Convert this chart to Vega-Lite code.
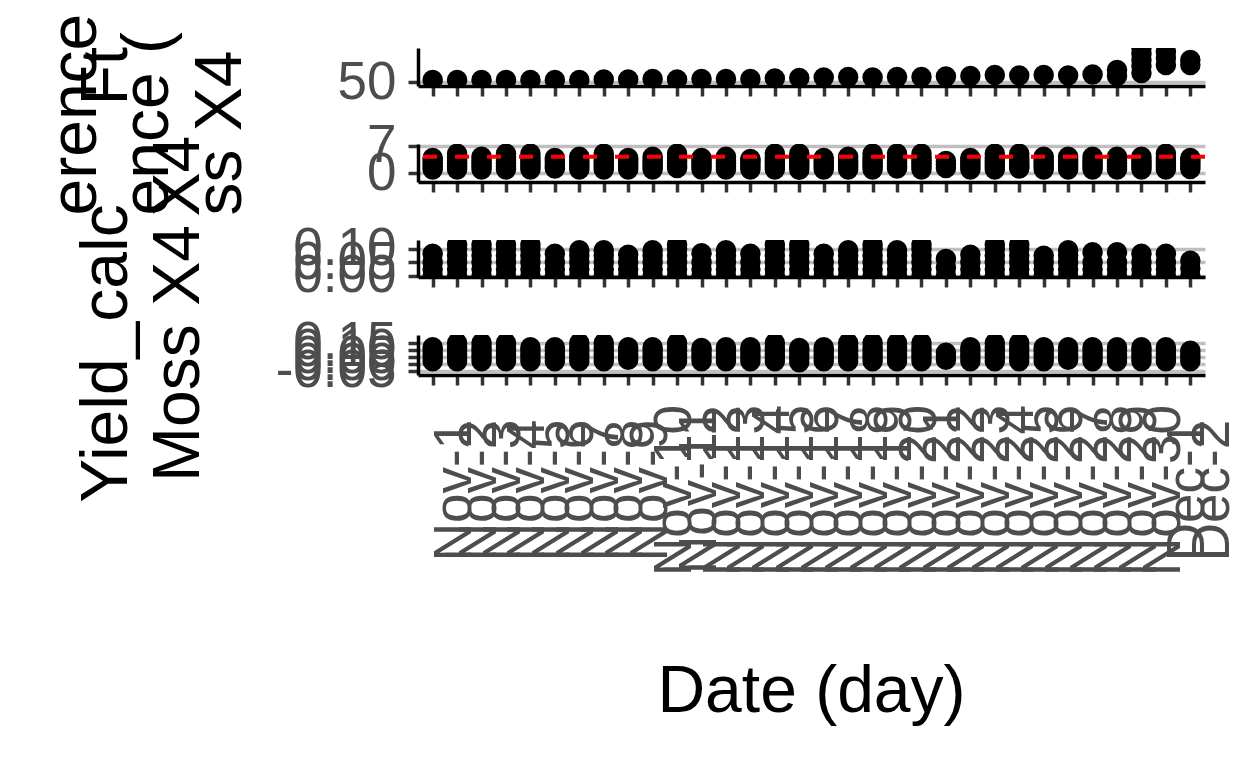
{
  "$schema": "https://vega.github.io/schema/vega-lite/v6.json",
  "background": "white",
  "padding": {"left": 42, "top": 13, "right": 5, "bottom": 5},
  "bounds": "flush",
  "spacing": 58,
  "datasets": {
    "p1": [
      {"date":"Nov-1","v":50.5},{"date":"Nov-2","v":50.5},{"date":"Nov-3","v":50.5},{"date":"Nov-4","v":50.5},{"date":"Nov-5","v":50.5},{"date":"Nov-6","v":50.5},{"date":"Nov-7","v":50.5},{"date":"Nov-8","v":50.63},{"date":"Nov-9","v":50.63},{"date":"Nov-10","v":50.75},{"date":"Nov-11","v":50.63},{"date":"Nov-12","v":50.75},{"date":"Nov-13","v":50.75},{"date":"Nov-14","v":50.75},{"date":"Nov-15","v":50.88},{"date":"Nov-16","v":51.0},{"date":"Nov-17","v":51.13},{"date":"Nov-18","v":51.25},{"date":"Nov-19","v":51.13},{"date":"Nov-20","v":51.25},{"date":"Nov-21","v":51.25},{"date":"Nov-22","v":51.38},{"date":"Nov-23","v":51.5},{"date":"Nov-24","v":51.75},{"date":"Nov-25","v":51.63},{"date":"Nov-26","v":51.75},{"date":"Nov-27","v":51.63},{"date":"Nov-28","v":51.88},
      {"date":"Nov-29","v":51.5},{"date":"Nov-29","v":53.0},
      {"date":"Nov-30","v":52.25},{"date":"Nov-30","v":54},{"date":"Nov-30","v":55.5},{"date":"Nov-30","v":57},{"date":"Nov-30","v":58.5},{"date":"Nov-30","v":61},
      {"date":"Dec-1","v":54.25},{"date":"Dec-1","v":56},{"date":"Dec-1","v":57.5},{"date":"Dec-1","v":60.5},
      {"date":"Dec-2","v":54.25},{"date":"Dec-2","v":55.5}
    ],
    "p2": [
      {"date":"Nov-1","v":0.97},{"date":"Nov-1","v":1.75},{"date":"Nov-1","v":2.5},{"date":"Nov-1","v":3.25},{"date":"Nov-1","v":3.92},
      {"date":"Nov-2","v":0.97},{"date":"Nov-2","v":1.75},{"date":"Nov-2","v":2.5},{"date":"Nov-2","v":3.25},{"date":"Nov-2","v":4.1},{"date":"Nov-2","v":5},
      {"date":"Nov-3","v":0.97},{"date":"Nov-3","v":1.75},{"date":"Nov-3","v":2.5},{"date":"Nov-3","v":3.25},{"date":"Nov-3","v":4.26},
      {"date":"Nov-4","v":0.97},{"date":"Nov-4","v":1.75},{"date":"Nov-4","v":2.5},{"date":"Nov-4","v":3.25},{"date":"Nov-4","v":4.1},{"date":"Nov-4","v":5},
      {"date":"Nov-5","v":0.97},{"date":"Nov-5","v":1.75},{"date":"Nov-5","v":2.5},{"date":"Nov-5","v":3.25},{"date":"Nov-5","v":4.1},{"date":"Nov-5","v":5},
      {"date":"Nov-6","v":1.2},{"date":"Nov-6","v":1.75},{"date":"Nov-6","v":2.5},{"date":"Nov-6","v":3.25},{"date":"Nov-6","v":3.92},
      {"date":"Nov-7","v":0.97},{"date":"Nov-7","v":1.75},{"date":"Nov-7","v":2.5},{"date":"Nov-7","v":3.25},{"date":"Nov-7","v":4.26},
      {"date":"Nov-8","v":0.97},{"date":"Nov-8","v":1.75},{"date":"Nov-8","v":2.5},{"date":"Nov-8","v":3.25},{"date":"Nov-8","v":4.1},{"date":"Nov-8","v":5},
      {"date":"Nov-9","v":0.97},{"date":"Nov-9","v":1.75},{"date":"Nov-9","v":2.5},{"date":"Nov-9","v":3.25},{"date":"Nov-9","v":3.92},
      {"date":"Nov-10","v":0.97},{"date":"Nov-10","v":1.75},{"date":"Nov-10","v":2.5},{"date":"Nov-10","v":3.25},{"date":"Nov-10","v":4.26},
      {"date":"Nov-11","v":1.36},{"date":"Nov-11","v":1.75},{"date":"Nov-11","v":2.5},{"date":"Nov-11","v":3.25},{"date":"Nov-11","v":4.1},{"date":"Nov-11","v":5},
      {"date":"Nov-12","v":0.97},{"date":"Nov-12","v":1.75},{"date":"Nov-12","v":2.5},{"date":"Nov-12","v":3.25},{"date":"Nov-12","v":3.92},
      {"date":"Nov-13","v":0.97},{"date":"Nov-13","v":1.75},{"date":"Nov-13","v":2.5},{"date":"Nov-13","v":3.25},{"date":"Nov-13","v":4.26},
      {"date":"Nov-14","v":0.97},{"date":"Nov-14","v":1.75},{"date":"Nov-14","v":2.5},{"date":"Nov-14","v":3.25},{"date":"Nov-14","v":3.67},
      {"date":"Nov-15","v":0.97},{"date":"Nov-15","v":1.75},{"date":"Nov-15","v":2.5},{"date":"Nov-15","v":3.25},{"date":"Nov-15","v":4.1},{"date":"Nov-15","v":5},
      {"date":"Nov-16","v":0.9},{"date":"Nov-16","v":1.75},{"date":"Nov-16","v":2.5},{"date":"Nov-16","v":3.25},{"date":"Nov-16","v":4.1},{"date":"Nov-16","v":5},
      {"date":"Nov-17","v":0.97},{"date":"Nov-17","v":1.75},{"date":"Nov-17","v":2.5},{"date":"Nov-17","v":3.25},{"date":"Nov-17","v":3.92},
      {"date":"Nov-18","v":0.97},{"date":"Nov-18","v":1.75},{"date":"Nov-18","v":2.5},{"date":"Nov-18","v":3.25},{"date":"Nov-18","v":4.26},
      {"date":"Nov-19","v":0.97},{"date":"Nov-19","v":1.75},{"date":"Nov-19","v":2.5},{"date":"Nov-19","v":3.25},{"date":"Nov-19","v":4.1},{"date":"Nov-19","v":5},
      {"date":"Nov-20","v":1.2},{"date":"Nov-20","v":1.75},{"date":"Nov-20","v":2.5},{"date":"Nov-20","v":3.25},{"date":"Nov-20","v":4.1},{"date":"Nov-20","v":5},
      {"date":"Nov-21","v":0.97},{"date":"Nov-21","v":1.75},{"date":"Nov-21","v":2.5},{"date":"Nov-21","v":3.25},{"date":"Nov-21","v":4.1},{"date":"Nov-21","v":5},
      {"date":"Nov-22","v":1.36},{"date":"Nov-22","v":2.25},{"date":"Nov-22","v":3.15},
      {"date":"Nov-23","v":0.97},{"date":"Nov-23","v":1.75},{"date":"Nov-23","v":2.5},{"date":"Nov-23","v":3.25},{"date":"Nov-23","v":3.92},
      {"date":"Nov-24","v":0.97},{"date":"Nov-24","v":1.75},{"date":"Nov-24","v":2.5},{"date":"Nov-24","v":3.25},{"date":"Nov-24","v":4.1},{"date":"Nov-24","v":5},
      {"date":"Nov-25","v":1.2},{"date":"Nov-25","v":1.75},{"date":"Nov-25","v":2.5},{"date":"Nov-25","v":3.25},{"date":"Nov-25","v":4.1},{"date":"Nov-25","v":5},
      {"date":"Nov-26","v":0.97},{"date":"Nov-26","v":1.75},{"date":"Nov-26","v":2.5},{"date":"Nov-26","v":3.25},{"date":"Nov-26","v":4.26},
      {"date":"Nov-27","v":0.97},{"date":"Nov-27","v":1.75},{"date":"Nov-27","v":2.5},{"date":"Nov-27","v":3.25},{"date":"Nov-27","v":4.26},
      {"date":"Nov-28","v":0.97},{"date":"Nov-28","v":1.75},{"date":"Nov-28","v":2.5},{"date":"Nov-28","v":3.25},{"date":"Nov-28","v":4.26},
      {"date":"Nov-29","v":0.97},{"date":"Nov-29","v":1.75},{"date":"Nov-29","v":2.5},{"date":"Nov-29","v":3.25},{"date":"Nov-29","v":4.26},
      {"date":"Nov-30","v":0.97},{"date":"Nov-30","v":1.75},{"date":"Nov-30","v":2.5},{"date":"Nov-30","v":3.25},{"date":"Nov-30","v":4.26},
      {"date":"Dec-1","v":0.97},{"date":"Dec-1","v":1.75},{"date":"Dec-1","v":2.5},{"date":"Dec-1","v":3.25},{"date":"Dec-1","v":4.1},{"date":"Dec-1","v":5},
      {"date":"Dec-2","v":1.1},{"date":"Dec-2","v":1.75},{"date":"Dec-2","v":2.5},{"date":"Dec-2","v":3.25},{"date":"Dec-2","v":3.92}
    ],
    "p3": [
      {"date":"Nov-1","v":0},{"date":"Nov-1","v":0.025},{"date":"Nov-1","v":0.05},{"date":"Nov-1","v":0.082},
      {"date":"Nov-2","v":0},{"date":"Nov-2","v":0.025},{"date":"Nov-2","v":0.05},{"date":"Nov-2","v":0.075},{"date":"Nov-2","v":0.1},{"date":"Nov-2","v":0.115},
      {"date":"Nov-3","v":0},{"date":"Nov-3","v":0.025},{"date":"Nov-3","v":0.05},{"date":"Nov-3","v":0.075},{"date":"Nov-3","v":0.1},{"date":"Nov-3","v":0.115},
      {"date":"Nov-4","v":0},{"date":"Nov-4","v":0.025},{"date":"Nov-4","v":0.05},{"date":"Nov-4","v":0.075},{"date":"Nov-4","v":0.1},{"date":"Nov-4","v":0.115},
      {"date":"Nov-5","v":0},{"date":"Nov-5","v":0.025},{"date":"Nov-5","v":0.05},{"date":"Nov-5","v":0.075},{"date":"Nov-5","v":0.1},{"date":"Nov-5","v":0.115},
      {"date":"Nov-6","v":0},{"date":"Nov-6","v":0.025},{"date":"Nov-6","v":0.05},{"date":"Nov-6","v":0.082},
      {"date":"Nov-7","v":0},{"date":"Nov-7","v":0.025},{"date":"Nov-7","v":0.05},{"date":"Nov-7","v":0.075},{"date":"Nov-7","v":0.095},
      {"date":"Nov-8","v":0},{"date":"Nov-8","v":0.025},{"date":"Nov-8","v":0.05},{"date":"Nov-8","v":0.075},{"date":"Nov-8","v":0.095},
      {"date":"Nov-9","v":0},{"date":"Nov-9","v":0.025},{"date":"Nov-9","v":0.05},{"date":"Nov-9","v":0.078},
      {"date":"Nov-10","v":0},{"date":"Nov-10","v":0.025},{"date":"Nov-10","v":0.05},{"date":"Nov-10","v":0.075},{"date":"Nov-10","v":0.095},
      {"date":"Nov-11","v":0},{"date":"Nov-11","v":0.025},{"date":"Nov-11","v":0.05},{"date":"Nov-11","v":0.075},{"date":"Nov-11","v":0.1},{"date":"Nov-11","v":0.115},
      {"date":"Nov-12","v":0},{"date":"Nov-12","v":0.025},{"date":"Nov-12","v":0.05},{"date":"Nov-12","v":0.084},
      {"date":"Nov-13","v":0},{"date":"Nov-13","v":0.025},{"date":"Nov-13","v":0.05},{"date":"Nov-13","v":0.075},{"date":"Nov-13","v":0.095},
      {"date":"Nov-14","v":0},{"date":"Nov-14","v":0.025},{"date":"Nov-14","v":0.05},{"date":"Nov-14","v":0.082},
      {"date":"Nov-15","v":0},{"date":"Nov-15","v":0.025},{"date":"Nov-15","v":0.05},{"date":"Nov-15","v":0.075},{"date":"Nov-15","v":0.1},{"date":"Nov-15","v":0.115},
      {"date":"Nov-16","v":0},{"date":"Nov-16","v":0.025},{"date":"Nov-16","v":0.05},{"date":"Nov-16","v":0.075},{"date":"Nov-16","v":0.1},{"date":"Nov-16","v":0.115},
      {"date":"Nov-17","v":0},{"date":"Nov-17","v":0.025},{"date":"Nov-17","v":0.05},{"date":"Nov-17","v":0.082},
      {"date":"Nov-18","v":0},{"date":"Nov-18","v":0.025},{"date":"Nov-18","v":0.05},{"date":"Nov-18","v":0.075},{"date":"Nov-18","v":0.095},
      {"date":"Nov-19","v":0},{"date":"Nov-19","v":0.025},{"date":"Nov-19","v":0.05},{"date":"Nov-19","v":0.075},{"date":"Nov-19","v":0.1},{"date":"Nov-19","v":0.115},
      {"date":"Nov-20","v":0},{"date":"Nov-20","v":0.025},{"date":"Nov-20","v":0.05},{"date":"Nov-20","v":0.075},{"date":"Nov-20","v":0.095},
      {"date":"Nov-21","v":0},{"date":"Nov-21","v":0.025},{"date":"Nov-21","v":0.05},{"date":"Nov-21","v":0.075},{"date":"Nov-21","v":0.1},{"date":"Nov-21","v":0.115},
      {"date":"Nov-22","v":0},{"date":"Nov-22","v":0.03},{"date":"Nov-22","v":0.063},
      {"date":"Nov-23","v":0},{"date":"Nov-23","v":0.025},{"date":"Nov-23","v":0.05},{"date":"Nov-23","v":0.078},
      {"date":"Nov-24","v":0},{"date":"Nov-24","v":0.025},{"date":"Nov-24","v":0.05},{"date":"Nov-24","v":0.075},{"date":"Nov-24","v":0.1},{"date":"Nov-24","v":0.115},
      {"date":"Nov-25","v":0},{"date":"Nov-25","v":0.025},{"date":"Nov-25","v":0.05},{"date":"Nov-25","v":0.075},{"date":"Nov-25","v":0.1},{"date":"Nov-25","v":0.115},
      {"date":"Nov-26","v":0},{"date":"Nov-26","v":0.025},{"date":"Nov-26","v":0.05},{"date":"Nov-26","v":0.075},
      {"date":"Nov-27","v":0},{"date":"Nov-27","v":0.025},{"date":"Nov-27","v":0.05},{"date":"Nov-27","v":0.075},{"date":"Nov-27","v":0.095},
      {"date":"Nov-28","v":0},{"date":"Nov-28","v":0.025},{"date":"Nov-28","v":0.05},{"date":"Nov-28","v":0.088},
      {"date":"Nov-29","v":0},{"date":"Nov-29","v":0.025},{"date":"Nov-29","v":0.05},{"date":"Nov-29","v":0.088},
      {"date":"Nov-30","v":0},{"date":"Nov-30","v":0.025},{"date":"Nov-30","v":0.05},{"date":"Nov-30","v":0.082},
      {"date":"Dec-1","v":0},{"date":"Dec-1","v":0.025},{"date":"Dec-1","v":0.05},{"date":"Dec-1","v":0.082},
      {"date":"Dec-2","v":0},{"date":"Dec-2","v":0.028},{"date":"Dec-2","v":0.056}
    ],
    "p4": [
      {"date":"Nov-1","v":0.02},{"date":"Nov-1","v":0.045},{"date":"Nov-1","v":0.07},{"date":"Nov-1","v":0.095},{"date":"Nov-1","v":0.12},
      {"date":"Nov-2","v":0.02},{"date":"Nov-2","v":0.045},{"date":"Nov-2","v":0.07},{"date":"Nov-2","v":0.095},{"date":"Nov-2","v":0.12},{"date":"Nov-2","v":0.15},
      {"date":"Nov-3","v":0.02},{"date":"Nov-3","v":0.045},{"date":"Nov-3","v":0.07},{"date":"Nov-3","v":0.095},{"date":"Nov-3","v":0.12},{"date":"Nov-3","v":0.15},
      {"date":"Nov-4","v":0.02},{"date":"Nov-4","v":0.045},{"date":"Nov-4","v":0.07},{"date":"Nov-4","v":0.095},{"date":"Nov-4","v":0.12},{"date":"Nov-4","v":0.15},
      {"date":"Nov-5","v":0.02},{"date":"Nov-5","v":0.045},{"date":"Nov-5","v":0.07},{"date":"Nov-5","v":0.095},{"date":"Nov-5","v":0.12},
      {"date":"Nov-6","v":0.02},{"date":"Nov-6","v":0.045},{"date":"Nov-6","v":0.07},{"date":"Nov-6","v":0.095},{"date":"Nov-6","v":0.12},
      {"date":"Nov-7","v":0.02},{"date":"Nov-7","v":0.045},{"date":"Nov-7","v":0.07},{"date":"Nov-7","v":0.095},{"date":"Nov-7","v":0.12},{"date":"Nov-7","v":0.15},
      {"date":"Nov-8","v":0.02},{"date":"Nov-8","v":0.045},{"date":"Nov-8","v":0.07},{"date":"Nov-8","v":0.095},{"date":"Nov-8","v":0.12},{"date":"Nov-8","v":0.15},
      {"date":"Nov-9","v":0.03},{"date":"Nov-9","v":0.05},{"date":"Nov-9","v":0.07},{"date":"Nov-9","v":0.095},{"date":"Nov-9","v":0.12},
      {"date":"Nov-10","v":0.02},{"date":"Nov-10","v":0.045},{"date":"Nov-10","v":0.07},{"date":"Nov-10","v":0.095},{"date":"Nov-10","v":0.12},
      {"date":"Nov-11","v":0.02},{"date":"Nov-11","v":0.045},{"date":"Nov-11","v":0.07},{"date":"Nov-11","v":0.095},{"date":"Nov-11","v":0.12},{"date":"Nov-11","v":0.15},
      {"date":"Nov-12","v":0.02},{"date":"Nov-12","v":0.045},{"date":"Nov-12","v":0.07},{"date":"Nov-12","v":0.095},{"date":"Nov-12","v":0.115},
      {"date":"Nov-13","v":0.02},{"date":"Nov-13","v":0.045},{"date":"Nov-13","v":0.07},{"date":"Nov-13","v":0.095},{"date":"Nov-13","v":0.12},
      {"date":"Nov-14","v":0.02},{"date":"Nov-14","v":0.045},{"date":"Nov-14","v":0.07},{"date":"Nov-14","v":0.095},{"date":"Nov-14","v":0.12},
      {"date":"Nov-15","v":0.02},{"date":"Nov-15","v":0.045},{"date":"Nov-15","v":0.07},{"date":"Nov-15","v":0.095},{"date":"Nov-15","v":0.12},{"date":"Nov-15","v":0.15},
      {"date":"Nov-16","v":0.012},{"date":"Nov-16","v":0.04},{"date":"Nov-16","v":0.07},{"date":"Nov-16","v":0.095},{"date":"Nov-16","v":0.115},
      {"date":"Nov-17","v":0.02},{"date":"Nov-17","v":0.045},{"date":"Nov-17","v":0.07},{"date":"Nov-17","v":0.095},{"date":"Nov-17","v":0.12},
      {"date":"Nov-18","v":0.02},{"date":"Nov-18","v":0.045},{"date":"Nov-18","v":0.07},{"date":"Nov-18","v":0.095},{"date":"Nov-18","v":0.12},{"date":"Nov-18","v":0.15},
      {"date":"Nov-19","v":0.02},{"date":"Nov-19","v":0.045},{"date":"Nov-19","v":0.07},{"date":"Nov-19","v":0.095},{"date":"Nov-19","v":0.12},{"date":"Nov-19","v":0.15},
      {"date":"Nov-20","v":0.02},{"date":"Nov-20","v":0.045},{"date":"Nov-20","v":0.07},{"date":"Nov-20","v":0.095},{"date":"Nov-20","v":0.12},{"date":"Nov-20","v":0.15},
      {"date":"Nov-21","v":0.02},{"date":"Nov-21","v":0.045},{"date":"Nov-21","v":0.07},{"date":"Nov-21","v":0.095},{"date":"Nov-21","v":0.12},{"date":"Nov-21","v":0.15},
      {"date":"Nov-22","v":0.03},{"date":"Nov-22","v":0.055},{"date":"Nov-22","v":0.08},
      {"date":"Nov-23","v":0.02},{"date":"Nov-23","v":0.045},{"date":"Nov-23","v":0.07},{"date":"Nov-23","v":0.095},{"date":"Nov-23","v":0.12},
      {"date":"Nov-24","v":0.02},{"date":"Nov-24","v":0.045},{"date":"Nov-24","v":0.07},{"date":"Nov-24","v":0.095},{"date":"Nov-24","v":0.12},{"date":"Nov-24","v":0.15},
      {"date":"Nov-25","v":0.02},{"date":"Nov-25","v":0.045},{"date":"Nov-25","v":0.07},{"date":"Nov-25","v":0.095},{"date":"Nov-25","v":0.12},{"date":"Nov-25","v":0.15},
      {"date":"Nov-26","v":0.02},{"date":"Nov-26","v":0.045},{"date":"Nov-26","v":0.07},{"date":"Nov-26","v":0.095},{"date":"Nov-26","v":0.12},
      {"date":"Nov-27","v":0.03},{"date":"Nov-27","v":0.05},{"date":"Nov-27","v":0.07},{"date":"Nov-27","v":0.095},{"date":"Nov-27","v":0.12},
      {"date":"Nov-28","v":0.02},{"date":"Nov-28","v":0.045},{"date":"Nov-28","v":0.07},{"date":"Nov-28","v":0.095},{"date":"Nov-28","v":0.12},
      {"date":"Nov-29","v":0.02},{"date":"Nov-29","v":0.045},{"date":"Nov-29","v":0.07},{"date":"Nov-29","v":0.095},{"date":"Nov-29","v":0.12},
      {"date":"Nov-30","v":0.02},{"date":"Nov-30","v":0.045},{"date":"Nov-30","v":0.07},{"date":"Nov-30","v":0.095},{"date":"Nov-30","v":0.12},
      {"date":"Dec-1","v":0.02},{"date":"Dec-1","v":0.045},{"date":"Dec-1","v":0.07},{"date":"Dec-1","v":0.095},{"date":"Dec-1","v":0.12},
      {"date":"Dec-2","v":0.02},{"date":"Dec-2","v":0.045},{"date":"Dec-2","v":0.07},{"date":"Dec-2","v":0.095}
    ]
  },
  "vconcat": [
    {
      "width": 787, "height": 38,
      "data": {"name": "p1"},
      "mark": {"type": "point", "filled": true, "size": 420, "color": "black", "opacity": 1, "clip": true},
      "encoding": {
        "x": {"field": "date", "type": "ordinal",
          "scale": {"type": "point", "padding": 0.6, "domain": ["Nov-1","Nov-2","Nov-3","Nov-4","Nov-5","Nov-6","Nov-7","Nov-8","Nov-9","Nov-10","Nov-11","Nov-12","Nov-13","Nov-14","Nov-15","Nov-16","Nov-17","Nov-18","Nov-19","Nov-20","Nov-21","Nov-22","Nov-23","Nov-24","Nov-25","Nov-26","Nov-27","Nov-28","Nov-29","Nov-30","Dec-1","Dec-2"]},
          "axis": {"labels": false, "title": null}},
        "y": {"field": "v", "type": "quantitative",
          "scale": {"domain": [49, 58.5], "nice": false, "zero": false},
          "axis": {"values": [50], "title": ["erence", "ence (", "ss X4"], "titleAngle": 270, "titleAlign": "left", "titleBaseline": "middle", "titleX": -343, "titleY": 167, "titleLineHeight": 72.5}}
      }
    },
    {
      "width": 787, "height": 38,
      "layer": [
        {
          "data": {"name": "p2"},
          "mark": {"type": "point", "filled": true, "size": 420, "color": "black", "opacity": 1, "clip": true},
          "encoding": {
            "x": {"field": "date", "type": "ordinal",
              "scale": {"type": "point", "padding": 0.6, "domain": ["Nov-1","Nov-2","Nov-3","Nov-4","Nov-5","Nov-6","Nov-7","Nov-8","Nov-9","Nov-10","Nov-11","Nov-12","Nov-13","Nov-14","Nov-15","Nov-16","Nov-17","Nov-18","Nov-19","Nov-20","Nov-21","Nov-22","Nov-23","Nov-24","Nov-25","Nov-26","Nov-27","Nov-28","Nov-29","Nov-30","Dec-1","Dec-2"]},
              "axis": {"labels": false, "title": null}},
            "y": {"field": "v", "type": "quantitative",
              "scale": {"domain": [-2.25, 7.5], "nice": false, "zero": false},
              "axis": {"values": [0, 1, 2, 3, 4, 5, 6, 7], "title": "Ft", "titleAngle": 270, "titleAlign": "left", "titleBaseline": "middle", "titleX": -312, "titleY": -39}}
          }
        },
        {
          "data": {"values": [{}]},
          "mark": {"type": "rule", "color": "red", "strokeWidth": 4, "strokeDash": [14, 18]},
          "encoding": {"y": {"datum": 4.25}}
        }
      ]
    },
    {
      "width": 787, "height": 37,
      "data": {"name": "p3"},
      "mark": {"type": "point", "filled": true, "size": 420, "color": "black", "opacity": 1, "clip": true},
      "encoding": {
        "x": {"field": "date", "type": "ordinal",
          "scale": {"type": "point", "padding": 0.6, "domain": ["Nov-1","Nov-2","Nov-3","Nov-4","Nov-5","Nov-6","Nov-7","Nov-8","Nov-9","Nov-10","Nov-11","Nov-12","Nov-13","Nov-14","Nov-15","Nov-16","Nov-17","Nov-18","Nov-19","Nov-20","Nov-21","Nov-22","Nov-23","Nov-24","Nov-25","Nov-26","Nov-27","Nov-28","Nov-29","Nov-30","Dec-1","Dec-2"]},
          "axis": {"labels": false, "title": null}},
        "y": {"field": "v", "type": "quantitative",
          "scale": {"domain": [-0.004, 0.133], "nice": false, "zero": false},
          "axis": {"values": [0, 0.05, 0.1], "format": ".2f", "title": "X4", "titleAngle": 270, "titleAlign": "left", "titleBaseline": "middle", "titleX": -240, "titleY": -24}}
      }
    },
    {
      "width": 787, "height": 40,
      "data": {"name": "p4"},
      "mark": {"type": "point", "filled": true, "size": 420, "color": "black", "opacity": 1, "clip": true},
      "encoding": {
        "x": {"field": "date", "type": "ordinal",
          "scale": {"type": "point", "padding": 0.6, "domain": ["Nov-1","Nov-2","Nov-3","Nov-4","Nov-5","Nov-6","Nov-7","Nov-8","Nov-9","Nov-10","Nov-11","Nov-12","Nov-13","Nov-14","Nov-15","Nov-16","Nov-17","Nov-18","Nov-19","Nov-20","Nov-21","Nov-22","Nov-23","Nov-24","Nov-25","Nov-26","Nov-27","Nov-28","Nov-29","Nov-30","Dec-1","Dec-2"]},
          "axis": {"title": "Date (day)", "labelAngle": 270, "labelAlign": "center", "labelBaseline": "middle", "labelPadding": 105, "labelOffset": 22, "titleX": 393, "titleY": 316, "titleAlign": "center", "titleBaseline": "middle", "titleAngle": 0}},
        "y": {"field": "v", "type": "quantitative",
          "scale": {"domain": [-0.0786, 0.207], "nice": false, "zero": false},
          "axis": {"values": [-0.05, 0, 0.05, 0.1, 0.15], "format": ".2f", "title": ["Yield_calc", "Moss X4"], "titleAngle": 270, "titleAlign": "center", "titleBaseline": "middle", "titleX": -312, "titleY": 18, "titleLineHeight": 72}}
      }
    }
  ],
  "config": {
    "view": {"stroke": null},
    "font": "Liberation Sans",
    "locale": {"number": {"decimal": ".", "thousands": ",", "grouping": [3], "currency": ["$", ""], "minus": "-"}},
    "axis": {
      "labelFont": "Liberation Sans", "labelFontSize": 53, "labelColor": "#4d4d4d",
      "titleFont": "Liberation Sans", "titleFontSize": 66, "titleColor": "black", "titleFontWeight": "normal",
      "tickColor": "#333333", "tickWidth": 3.5, "tickSize": 10,
      "domainColor": "black", "domainWidth": 3.5,
      "gridColor": "#bfbfbf", "gridWidth": 3.5,
      "labelOverlap": false, "labelFlush": false, "labelBound": false, "labelPadding": 12
    },
    "axisX": {"grid": false},
    "axisY": {"grid": true}
  }
}
